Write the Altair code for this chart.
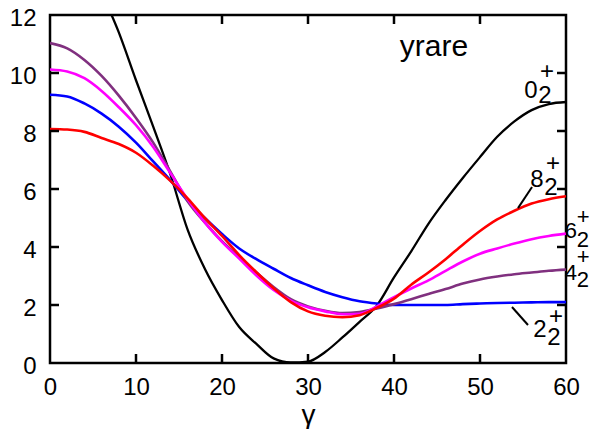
import altair as alt
import pandas as pd

# ---------------- data ----------------
gamma = list(range(0, 61, 2))

y_0 = [15.8, 15.4, 14.3, 12.8, 11.4, 9.75, 8.15, 6.5, 4.6, 3.25, 2.17, 1.24, 0.66, 0.16,
       0.02, 0.05, 0.38, 0.88, 1.42, 1.98, 2.95, 3.85, 4.8, 5.62, 6.38, 7.1, 7.8, 8.33,
       8.72, 8.93, 9.0]
y_2 = [9.25, 9.19, 8.95, 8.6, 8.15, 7.6, 6.95, 6.3, 5.6, 5.0, 4.45, 3.95, 3.58, 3.25,
       2.93, 2.68, 2.45, 2.27, 2.13, 2.05, 2.0, 2.0, 2.0, 2.0, 2.03, 2.05, 2.07, 2.08,
       2.09, 2.1, 2.1]
y_4 = [11.03, 10.85, 10.45, 9.9, 9.22, 8.45, 7.6, 6.6, 5.58, 4.85, 4.2, 3.65, 3.12, 2.62,
       2.2, 1.95, 1.8, 1.72, 1.76, 1.88, 2.03, 2.2, 2.38, 2.55, 2.74, 2.88, 2.98, 3.06,
       3.12, 3.18, 3.22]
y_6 = [10.12, 10.05, 9.82, 9.38, 8.82, 8.2, 7.45, 6.55, 5.65, 4.85, 4.18, 3.6, 3.02, 2.52,
       2.15, 1.92, 1.78, 1.68, 1.7, 1.95, 2.27, 2.57, 2.85, 3.18, 3.5, 3.77, 3.95, 4.12,
       4.27, 4.38, 4.46]
y_8 = [8.07, 8.05, 7.97, 7.76, 7.55, 7.25, 6.8, 6.28, 5.68, 5.0, 4.38, 3.72, 3.13, 2.58,
       2.1, 1.78, 1.63, 1.58, 1.65, 1.9, 2.22, 2.7, 3.12, 3.58, 4.08, 4.55, 4.95, 5.25,
       5.5, 5.65, 5.75]

series_names = ["0", "2", "4", "6", "8"]
series_vals = [y_0, y_2, y_4, y_6, y_8]
series_colors = ["#000000", "#0000FF", "#80307F", "#FF00FF", "#FF0000"]
series_widths = [2.3, 2.6, 2.6, 2.6, 2.6]

x_ticks = [0, 10, 20, 30, 40, 50, 60]
y_ticks = [0, 2, 4, 6, 8, 10, 12]
inner_x_ticks = [10, 20, 30, 40, 50]
inner_y_ticks = [2, 4, 6, 8, 10]

# curve labels (text, x, y), positioned in data units
label_texts = ["0", "2", "+", "8", "2", "+", "6", "2", "+", "4", "2", "+", "2", "2", "+"]
label_x = [55.93, 57.56, 57.79, 56.63, 58.26, 58.49, 60.58, 61.95, 62.0,
           60.58, 61.95, 62.0, 56.98, 58.60, 58.84]
label_y = [9.14, 8.97, 9.79, 6.07, 5.79, 6.62, 4.31, 4.0, 4.79,
           2.86, 2.62, 3.41, 0.90, 0.62, 1.34]
label_sizes = [24, 24, 24, 24, 24, 24, 22, 22, 22, 22, 22, 22, 24, 24, 24]

leader_x = [54.42, 56.05, 53.72, 55.58]
leader_y = [5.34, 6.07, 1.93, 1.31]
leader_id = ["a", "a", "b", "b"]

title_text = "yrare"
title_x = 44.65
title_y = 10.59

# ---------------- chart ----------------
W, H = 516, 348
FONT = "Liberation Sans"
xs = alt.Scale(domain=[0, 60], nice=False, zero=False)
ys = alt.Scale(domain=[0, 12], nice=False, zero=False)

x_axis = alt.Axis(values=x_ticks, title="γ", labelFontSize=24, labelFont=FONT,
                  labelColor="black", labelPadding=12, ticks=False, tickSize=0,
                  domain=False, grid=False, titleFont=FONT, titleFontSize=28,
                  titleFontWeight="normal", titleColor="black", titlePadding=2,
                  labelFlush=False)
y_axis = alt.Axis(values=y_ticks, title=None, labelFontSize=24, labelFont=FONT,
                  labelColor="black", labelPadding=14, ticks=False, tickSize=0,
                  domain=False, grid=False, labelOffset=3, labelFlush=False)


def X(field="x"):
    return alt.X(f"{field}:Q", scale=xs, axis=x_axis)


def Y(field="y"):
    return alt.Y(f"{field}:Q", scale=ys, axis=y_axis)


layers = []
for name, vals, col, sw in zip(series_names, series_vals, series_colors, series_widths):
    d = pd.DataFrame({"x": gamma, "y": vals})
    layers.append(
        alt.Chart(d).mark_line(color=col, strokeWidth=sw, clip=True,
                               interpolate="monotone").encode(x=X(), y=Y())
    )

xt = pd.DataFrame({"x": inner_x_ticks})
yt = pd.DataFrame({"y": inner_y_ticks})
tick_layers = [
    alt.Chart(xt).mark_rule(color="black", strokeWidth=2.5).encode(
        x=X(), y=alt.value(H), y2=alt.value(H - 9)),
    alt.Chart(xt).mark_rule(color="black", strokeWidth=2.5).encode(
        x=X(), y=alt.value(0), y2=alt.value(9)),
    alt.Chart(yt).mark_rule(color="black", strokeWidth=2.5).encode(
        y=Y(), x=alt.value(0), x2=alt.value(9)),
    alt.Chart(yt).mark_rule(color="black", strokeWidth=2.5).encode(
        y=Y(), x=alt.value(W), x2=alt.value(W - 9)),
]

ld = pd.DataFrame({"x": leader_x, "y": leader_y, "id": leader_id})
leaders = alt.Chart(ld).mark_line(color="black", strokeWidth=2.0, clip=False).encode(
    x=X(), y=Y(), detail="id:N")

lab = pd.DataFrame({"x": label_x, "y": label_y, "t": label_texts, "s": label_sizes})
labels = alt.Chart(lab).mark_text(font=FONT, color="black", align="center",
                                  baseline="alphabetic", clip=False).encode(
    x=X(), y=Y(), text="t:N",
    size=alt.Size("s:Q", scale=None, legend=None))

td = pd.DataFrame({"x": [title_x], "y": [title_y], "t": [title_text]})
title = alt.Chart(td).mark_text(font=FONT, fontSize=30, color="black", align="center",
                                baseline="alphabetic", clip=False).encode(
    x=X(), y=Y(), text="t:N")

chart = alt.layer(*layers, *tick_layers, leaders, labels, title).properties(
    width=W, height=H,
    autosize=alt.AutoSizeParams(type="none"),
    padding={"left": 42, "top": 7, "right": 24, "bottom": 66},
).configure(
    background="white",
    view=alt.ViewConfig(stroke="black", strokeWidth=2.5),
)

chart.save("out.html", embed_options={"renderer": "svg", "actions": False})
